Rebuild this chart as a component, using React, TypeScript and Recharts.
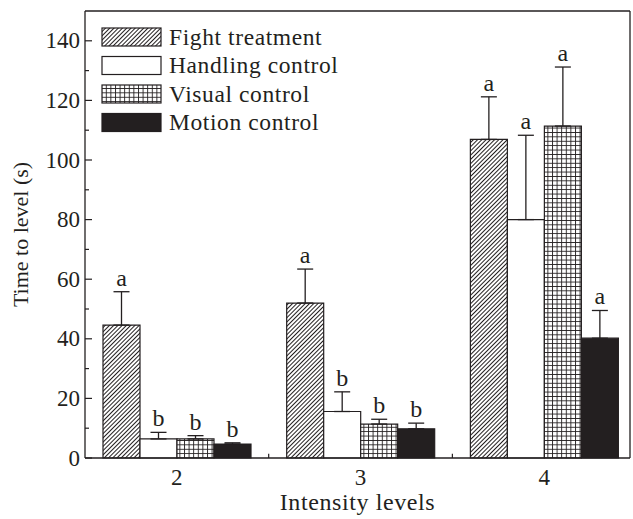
import { BarChart, Bar, XAxis, YAxis, ErrorBar, LabelList, ReferenceLine } from 'recharts';

const levels = [2, 3, 4];
const seriesNames = ['Fight treatment', 'Handling control', 'Visual control', 'Motion control'];
const fight = [44.6, 52.0, 106.9];
const fightErr = [11.2, 11.4, 14.3];
const handling = [6.4, 15.6, 80.0];
const handlingErr = [2.2, 6.6, 28.3];
const visual = [6.4, 11.4, 111.4];
const visualErr = [1.1, 1.6, 19.8];
const motion = [4.7, 9.8, 40.2];
const motionErr = [0.4, 1.9, 9.3];
const fightLetters = ['a', 'a', 'a'];
const handlingLetters = ['b', 'b', 'a'];
const visualLetters = ['b', 'b', 'a'];
const motionLetters = ['b', 'b', 'a'];
const yTicks = [0, 10, 20, 30, 40, 50, 60, 70, 80, 90, 100, 110, 120, 130, 140];
const xDomain = [1.5, 4.467];
const yMax = 150;
const boundaryTicks = [2.5, 3.5];

const FONT = '"Liberation Serif", "Times New Roman", serif';
const INK = '#231f20';

const data = levels.map((level, i) => ({
  level,
  fight: fight[i],
  fightErr: [0, fightErr[i]],
  handling: handling[i],
  handlingErr: [0, handlingErr[i]],
  visual: visual[i],
  visualErr: [0, visualErr[i]],
  motion: motion[i],
  motionErr: [0, motionErr[i]],
}));

const fills = ['url(#hatch)', '#ffffff', 'url(#grid)', INK];

function letterLabel(letters: string[], errs: number[]) {
  return (props: any) => {
    const { x, y, width, height, value, index } = props;
    const perUnit = value ? height / value : 0;
    const top = y - errs[index] * perUnit;
    return (
      <text x={x + width / 2} y={top - 6} textAnchor="middle" fontFamily={FONT} fontSize={24} fill={INK}>
        {letters[index]}
      </text>
    );
  };
}

const YTick = (props: any) => {
  const { x, y, payload } = props;
  const major = payload.value % 20 === 0;
  return (
    <g>
      <line x1={x} x2={x + (major ? 7 : 4)} y1={y} y2={y} stroke={INK} strokeWidth={1.2} />
      {major && (
        <text x={x - 5} y={y} dy={7.5} textAnchor="end" fontFamily={FONT} fontSize={23} fill={INK}>
          {payload.value}
        </text>
      )}
    </g>
  );
};

const XTick = (props: any) => {
  const { x, y, payload } = props;
  return (
    <text x={x} y={y + 27} textAnchor="middle" fontFamily={FONT} fontSize={23} fill={INK}>
      {payload.value}
    </text>
  );
};

function Legend() {
  return (
    <svg width={633} height={150} style={{ position: 'absolute', left: 0, top: 0, pointerEvents: 'none' }}>
      <defs>
        <pattern id="hatch" patternUnits="userSpaceOnUse" width={3} height={3} patternTransform="rotate(45)">
          <rect width={3} height={3} fill="#ffffff" />
          <line x1={1.5} y1={0} x2={1.5} y2={3} stroke={INK} strokeWidth={1} />
        </pattern>
        <pattern id="grid" patternUnits="userSpaceOnUse" width={4.6} height={4.4}>
          <rect width={4.6} height={4.4} fill="#ffffff" />
          <path d="M0 0.5 H4.6 M0.5 0 V4.4" stroke={INK} strokeWidth={0.9} fill="none" />
        </pattern>
      </defs>
      {seriesNames.map((name, i) => (
        <g key={name}>
          <rect x={102} y={28 + i * 28.5} width={59} height={18} fill={fills[i]} stroke={INK} strokeWidth={1.2} />
          <text x={169} y={44.5 + i * 28.5} fontFamily={FONT} fontSize={23.5} letterSpacing={0.6} fill={INK}>
            {name}
          </text>
        </g>
      ))}
    </svg>
  );
}

export default function App() {
  const keys = ['fight', 'handling', 'visual', 'motion'];
  const letters = [fightLetters, handlingLetters, visualLetters, motionLetters];
  const errs = [fightErr, handlingErr, visualErr, motionErr];
  return (
    <div style={{ position: 'absolute', left: 0, top: 0, width: 633, height: 519, background: '#fff' }}>
      <BarChart
        width={633}
        height={519}
        data={data}
        margin={{ top: 11, right: 3, left: 0, bottom: 0 }}
        barGap={0}
        style={{ fontFamily: FONT }}
      >
        <XAxis
          type="number"
          dataKey="level"
          domain={xDomain}
          ticks={levels}
          allowDataOverflow
          height={61}
          tickLine={false}
          tickSize={0}
          tickMargin={0}
          tick={<XTick />}
          axisLine={{ stroke: INK, strokeWidth: 1.3 }}
          label={{
            content: (p: any) => (
              <text
                x={p.viewBox.x + p.viewBox.width / 2}
                y={510}
                textAnchor="middle"
                fontFamily={FONT}
                fontSize={24}
                letterSpacing={0.6}
                fill={INK}
              >
                Intensity levels
              </text>
            ),
          }}
        />
        <YAxis
          domain={[0, yMax]}
          ticks={yTicks}
          width={85}
          tickLine={false}
          tickSize={0}
          tickMargin={0}
          tick={<YTick />}
          interval={0}
          axisLine={{ stroke: INK, strokeWidth: 1.3 }}
          label={{
            content: (p: any) => {
              const cy = p.viewBox.y + p.viewBox.height / 2;
              return (
                <text x={28} y={cy} transform={`rotate(-90, 28, ${cy})`} textAnchor="middle" fontFamily={FONT} fontSize={22} fill={INK}>
                  Time to level (s)
                </text>
              );
            },
          }}
        />
        <ReferenceLine y={yMax} stroke={INK} strokeWidth={1.3} />
        <ReferenceLine x={xDomain[1]} stroke={INK} strokeWidth={1.3} />
        {boundaryTicks.map((t) => (
          <ReferenceLine
            key={t}
            segment={[
              { x: t, y: 0 },
              { x: t, y: 1.4 },
            ]}
            stroke={INK}
            strokeWidth={1.2}
          />
        ))}
        {keys.map((k, i) => (
          <Bar
            key={k}
            dataKey={k}
            name={seriesNames[i]}
            barSize={37}
            fill={fills[i]}
            stroke={INK}
            strokeWidth={1.2}
            isAnimationActive={false}
          >
            <ErrorBar dataKey={`${k}Err`} direction="y" width={8} stroke={INK} strokeWidth={1.3} />
            <LabelList dataKey={k} content={letterLabel(letters[i], errs[i])} />
          </Bar>
        ))}
      </BarChart>
      <Legend />
    </div>
  );
}
